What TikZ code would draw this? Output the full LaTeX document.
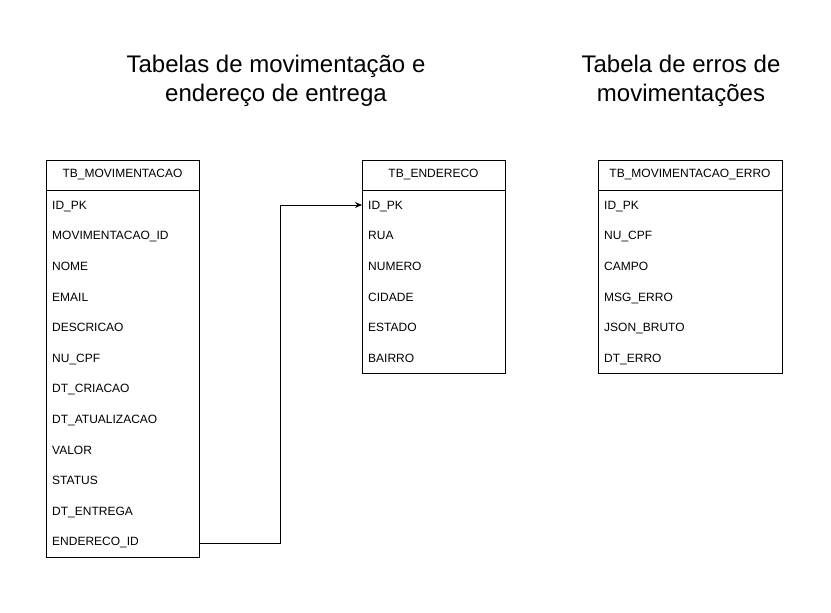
\documentclass[tikz,border=0pt]{standalone}
\usepackage{fontspec}
\setmainfont{Liberation Sans}
\usetikzlibrary{arrows.meta}
\begin{document}
\begin{tikzpicture}[x=1pt,y=-1pt,
  tbl/.style={draw=black,line width=1pt,fill=white,inner sep=0pt},
  hdr/.style={font=\fontsize{12}{14}\selectfont,anchor=center,inner sep=0pt,text height=8.6pt,text depth=0pt},
  fld/.style={font=\fontsize{12}{14}\selectfont,anchor=west,inner sep=0pt,text height=8.6pt,text depth=0pt},
  ttl/.style={font=\fontsize{24}{29}\selectfont,align=center,anchor=center},
  conn/.style={draw=black,line width=1pt,-{Stealth[length=7pt,width=6pt]}}]
\useasboundingbox (0,0) rectangle (831,613);
% titles
\node[ttl] (t1) at (276,81) {Tabelas de movimentação e\\endereço de entrega};
\node[ttl] (t2) at (681,81) {Tabela de erros de\\movimentações};
% table 1
\draw[tbl] (46,160) rectangle (199,557);
\draw[line width=1pt] (46,190) -- (199,190);
\node[hdr] (h1) at (122.5,173.5) {TB\_MOVIMENTACAO};
\node[fld] (a1) at (52,205) {ID\_PK};
\node[fld] (a2) at (52,235.6) {MOVIMENTACAO\_ID};
\node[fld] (a3) at (52,266.2) {NOME};
\node[fld] (a4) at (52,296.8) {EMAIL};
\node[fld] (a5) at (52,327.4) {DESCRICAO};
\node[fld] (a6) at (52,358) {NU\_CPF};
\node[fld] (a7) at (52,388.6) {DT\_CRIACAO};
\node[fld] (a8) at (52,419.2) {DT\_ATUALIZACAO};
\node[fld] (a9) at (52,449.8) {VALOR};
\node[fld] (a10) at (52,480.4) {STATUS};
\node[fld] (a11) at (52,511) {DT\_ENTREGA};
\node[fld] (a12) at (52,541.6) {ENDERECO\_ID};
\coordinate (s) at (199,543);
% table 2
\draw[tbl] (362,160) rectangle (505,373);
\draw[line width=1pt] (362,190) -- (505,190);
\node[hdr] (h2) at (433.5,173.5) {TB\_ENDERECO};
\node[fld] (b1) at (368,205) {ID\_PK};
\node[fld] (b2) at (368,235.6) {RUA};
\node[fld] (b3) at (368,266.2) {NUMERO};
\node[fld] (b4) at (368,296.8) {CIDADE};
\node[fld] (b5) at (368,327.4) {ESTADO};
\node[fld] (b6) at (368,358) {BAIRRO};
\coordinate (e) at (362,205);
% table 3
\draw[tbl] (598,160) rectangle (782,373);
\draw[line width=1pt] (598,190) -- (782,190);
\node[hdr] (h3) at (690,173.5) {TB\_MOVIMENTACAO\_ERRO};
\node[fld] (c1) at (604,205) {ID\_PK};
\node[fld] (c2) at (604,235.6) {NU\_CPF};
\node[fld] (c3) at (604,266.2) {CAMPO};
\node[fld] (c4) at (604,296.8) {MSG\_ERRO};
\node[fld] (c5) at (604,327.4) {JSON\_BRUTO};
\node[fld] (c6) at (604,358) {DT\_ERRO};
% connector
\draw[conn] (s) -- (280,543) -- (280,205) -- (e);
\end{tikzpicture}
\end{document}
